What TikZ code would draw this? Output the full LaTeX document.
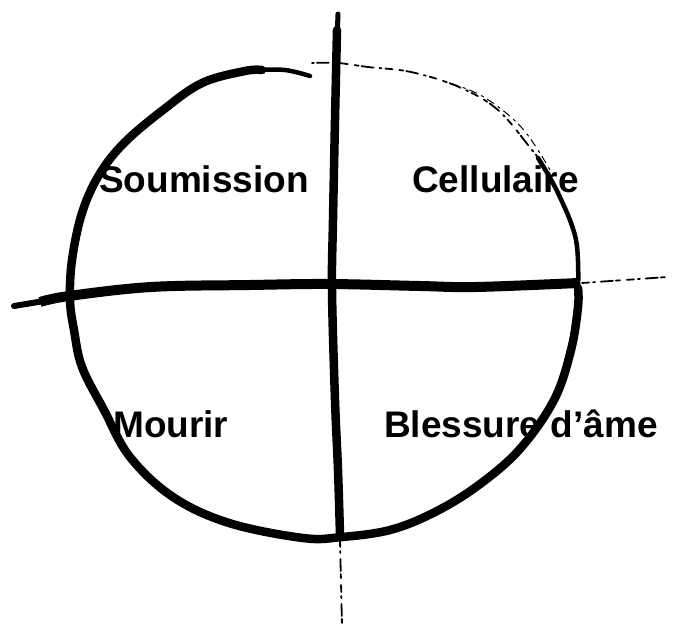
\documentclass[tikz,border=0pt]{standalone}
\usepackage{fontspec}
\setmainfont{Liberation Sans}
\begin{document}
\begin{tikzpicture}[x=1pt,y=-1pt,
  thickstroke/.style={line width=8.5pt,line cap=round,line join=round},
  midstroke/.style={line width=4.5pt,line cap=round,line join=round},
  faintstroke/.style={line width=1.8pt,line cap=round,dash pattern=on 7pt off 4pt on 2pt off 6pt on 12pt off 3pt on 4pt off 7pt},
  label/.style={font=\bfseries\fontsize{37}{40}\selectfont,inner sep=0pt,anchor=base west}]
\useasboundingbox[fill=white] (0,0) rectangle (677,635);
% circle
\draw[midstroke] plot[smooth,tension=0.6] coordinates {(310,76) (285,70) (255,70)};
\draw[thickstroke] plot[smooth,tension=0.6] coordinates {
 (262,70) (245,71) (202,83) (163,110) (124,143) (99,175) (82,213) (72,260)
 (70,300) (74,330) (82,367) (104,410) (130,457) (173,497) (229,523) (303,538)
 (342,537) (390,530) (433,513) (476,487) (519,450) (554,400) (571,350) (578,307) (578,288)};
\draw[midstroke] plot[smooth,tension=0.6] coordinates {(578,292) (576,240) (558,193) (538,158)};
\draw[faintstroke] plot[smooth,tension=0.6] coordinates {(540,160) (532,150) (498,110) (459,87) (411,72) (368,67) (338,63) (312,63)};
\draw[line width=1pt,dash pattern=on 3pt off 5pt on 8pt off 4pt] plot[smooth,tension=0.6] coordinates {(550,170) (522,128) (482,96) (440,80)};
% vertical line
\draw[line width=5pt,line cap=round] (338,14) -- (337,40);
\draw[line width=8.5pt,line cap=round,line join=round] plot[smooth,tension=0.6] coordinates {(337,30) (335,120) (333,220) (332,290) (335,400) (338,470) (340,535)};
\draw[faintstroke] (340,540) -- (342,625);
% horizontal line
\draw[line width=6pt,line cap=round] (14,306) -- (50,300);
\draw[line width=10pt,line join=round] plot[smooth,tension=0.6] coordinates {(40,302) (69,296) (151,287) (250,285) (329,284) (420,286) (476,287) (578,283)};
\draw[faintstroke] (582,283) -- (667,277);
% labels
\node[label] (soum) at (99,192) {Soumission};
\node[label] (cell) at (412,192) {Cellulaire};
\node[label] (mour) at (113,437) {Mourir};
\node[label] (bles) at (384,437) {Blessure d’âme};
\end{tikzpicture}
\end{document}
